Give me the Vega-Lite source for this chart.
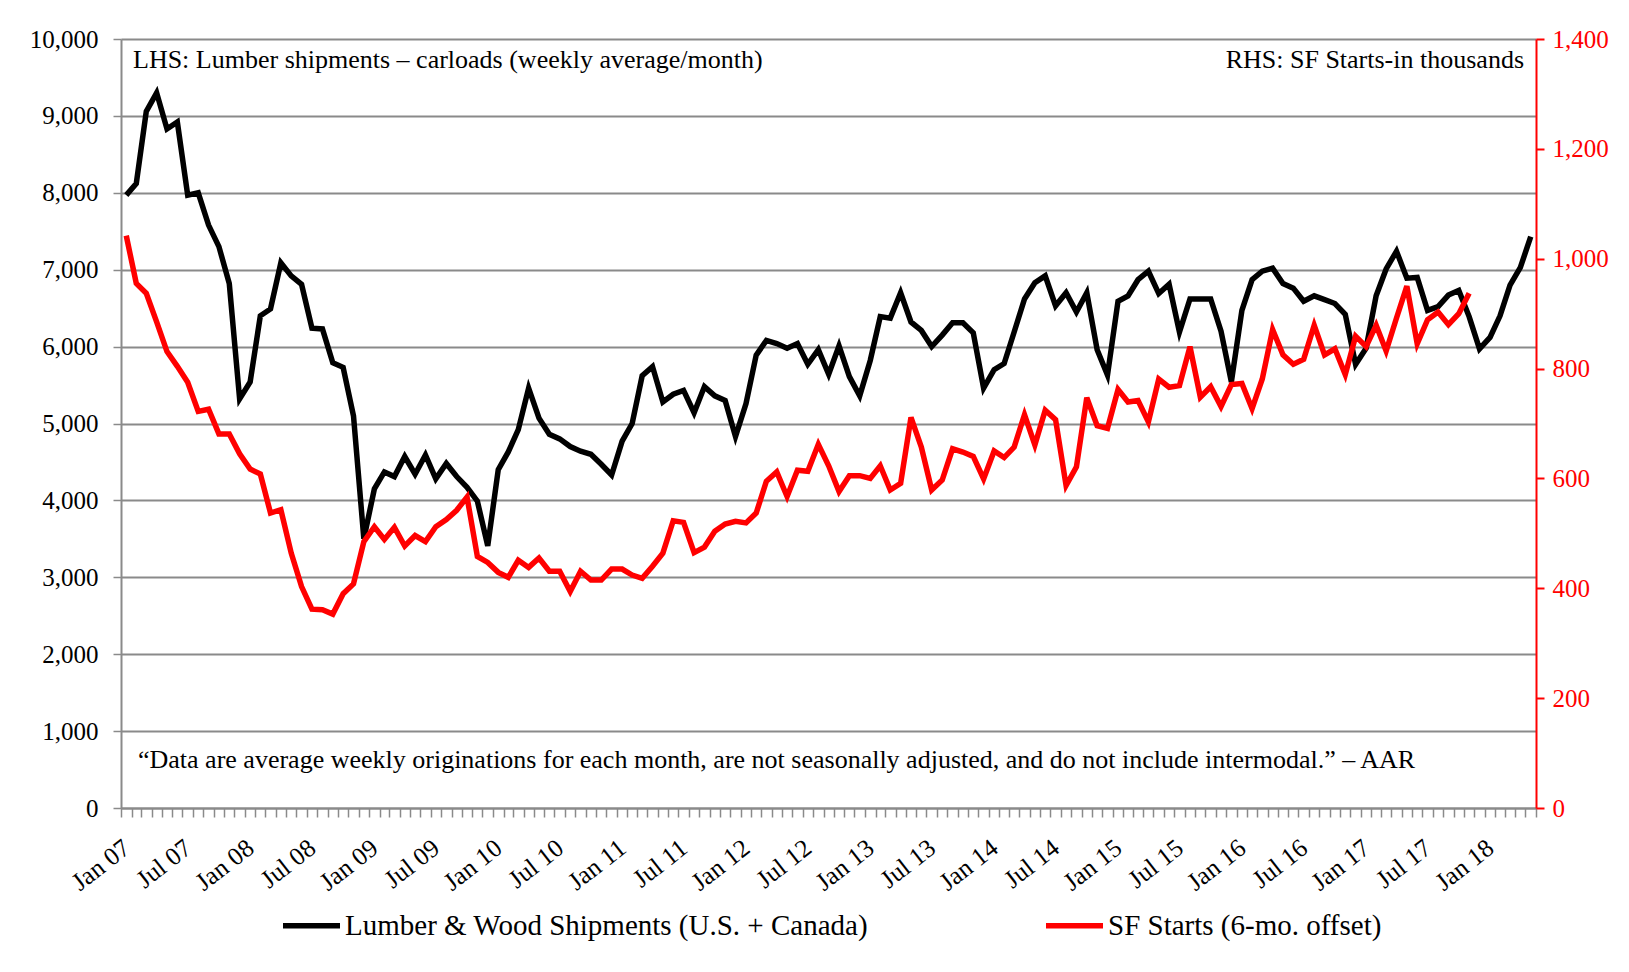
{
  "$schema": "https://vega.github.io/schema/vega-lite/v6.json",
  "width": 1415,
  "height": 769,
  "autosize": {"type": "none"},
  "padding": {"left": 121, "top": 39, "right": 93, "bottom": 164},
  "background": "white",
  "config": {
    "font": "Liberation Serif",
    "view": {"stroke": null},
    "axis": {
      "labelFont": "Liberation Serif",
      "titleFont": "Liberation Serif",
      "domainColor": "#8a8a8a",
      "domainWidth": 2,
      "tickColor": "#8a8a8a",
      "tickWidth": 1.5,
      "tickSize": 8,
      "gridColor": "#8a8a8a",
      "gridWidth": 2,
      "labelColor": "black"
    },
    "legend": {"labelFont": "Liberation Serif"}
  },
  "datasets": {
    "lumber": [
      {"month": "2007-01", "carloads": 7970}, {"month": "2007-02", "carloads": 8120}, {"month": "2007-03", "carloads": 9060}, {"month": "2007-04", "carloads": 9300}, {"month": "2007-05", "carloads": 8830}, {"month": "2007-06", "carloads": 8920}, {"month": "2007-07", "carloads": 7970}, {"month": "2007-08", "carloads": 8000}, {"month": "2007-09", "carloads": 7580}, {"month": "2007-10", "carloads": 7300}, {"month": "2007-11", "carloads": 6820}, {"month": "2007-12", "carloads": 5320},
      {"month": "2008-01", "carloads": 5540}, {"month": "2008-02", "carloads": 6400}, {"month": "2008-03", "carloads": 6490}, {"month": "2008-04", "carloads": 7090}, {"month": "2008-05", "carloads": 6920}, {"month": "2008-06", "carloads": 6810}, {"month": "2008-07", "carloads": 6240}, {"month": "2008-08", "carloads": 6230}, {"month": "2008-09", "carloads": 5790}, {"month": "2008-10", "carloads": 5730}, {"month": "2008-11", "carloads": 5100}, {"month": "2008-12", "carloads": 3500},
      {"month": "2009-01", "carloads": 4150}, {"month": "2009-02", "carloads": 4370}, {"month": "2009-03", "carloads": 4310}, {"month": "2009-04", "carloads": 4570}, {"month": "2009-05", "carloads": 4340}, {"month": "2009-06", "carloads": 4590}, {"month": "2009-07", "carloads": 4280}, {"month": "2009-08", "carloads": 4480}, {"month": "2009-09", "carloads": 4310}, {"month": "2009-10", "carloads": 4170}, {"month": "2009-11", "carloads": 3990}, {"month": "2009-12", "carloads": 3410},
      {"month": "2010-01", "carloads": 4400}, {"month": "2010-02", "carloads": 4630}, {"month": "2010-03", "carloads": 4920}, {"month": "2010-04", "carloads": 5460}, {"month": "2010-05", "carloads": 5070}, {"month": "2010-06", "carloads": 4860}, {"month": "2010-07", "carloads": 4800}, {"month": "2010-08", "carloads": 4700}, {"month": "2010-09", "carloads": 4640}, {"month": "2010-10", "carloads": 4600}, {"month": "2010-11", "carloads": 4470}, {"month": "2010-12", "carloads": 4330},
      {"month": "2011-01", "carloads": 4770}, {"month": "2011-02", "carloads": 5000}, {"month": "2011-03", "carloads": 5620}, {"month": "2011-04", "carloads": 5740}, {"month": "2011-05", "carloads": 5280}, {"month": "2011-06", "carloads": 5380}, {"month": "2011-07", "carloads": 5430}, {"month": "2011-08", "carloads": 5140}, {"month": "2011-09", "carloads": 5480}, {"month": "2011-10", "carloads": 5360}, {"month": "2011-11", "carloads": 5300}, {"month": "2011-12", "carloads": 4830},
      {"month": "2012-01", "carloads": 5260}, {"month": "2012-02", "carloads": 5890}, {"month": "2012-03", "carloads": 6080}, {"month": "2012-04", "carloads": 6040}, {"month": "2012-05", "carloads": 5980}, {"month": "2012-06", "carloads": 6040}, {"month": "2012-07", "carloads": 5770}, {"month": "2012-08", "carloads": 5960}, {"month": "2012-09", "carloads": 5640}, {"month": "2012-10", "carloads": 6010}, {"month": "2012-11", "carloads": 5610}, {"month": "2012-12", "carloads": 5360},
      {"month": "2013-01", "carloads": 5820}, {"month": "2013-02", "carloads": 6390}, {"month": "2013-03", "carloads": 6370}, {"month": "2013-04", "carloads": 6700}, {"month": "2013-05", "carloads": 6320}, {"month": "2013-06", "carloads": 6210}, {"month": "2013-07", "carloads": 6000}, {"month": "2013-08", "carloads": 6150}, {"month": "2013-09", "carloads": 6310}, {"month": "2013-10", "carloads": 6310}, {"month": "2013-11", "carloads": 6180}, {"month": "2013-12", "carloads": 5460},
      {"month": "2014-01", "carloads": 5700}, {"month": "2014-02", "carloads": 5780}, {"month": "2014-03", "carloads": 6190}, {"month": "2014-04", "carloads": 6620}, {"month": "2014-05", "carloads": 6830}, {"month": "2014-06", "carloads": 6920}, {"month": "2014-07", "carloads": 6530}, {"month": "2014-08", "carloads": 6700}, {"month": "2014-09", "carloads": 6450}, {"month": "2014-10", "carloads": 6700}, {"month": "2014-11", "carloads": 5960}, {"month": "2014-12", "carloads": 5630},
      {"month": "2015-01", "carloads": 6590}, {"month": "2015-02", "carloads": 6660}, {"month": "2015-03", "carloads": 6870}, {"month": "2015-04", "carloads": 6980}, {"month": "2015-05", "carloads": 6690}, {"month": "2015-06", "carloads": 6810}, {"month": "2015-07", "carloads": 6190}, {"month": "2015-08", "carloads": 6620}, {"month": "2015-09", "carloads": 6620}, {"month": "2015-10", "carloads": 6620}, {"month": "2015-11", "carloads": 6200}, {"month": "2015-12", "carloads": 5540},
      {"month": "2016-01", "carloads": 6470}, {"month": "2016-02", "carloads": 6870}, {"month": "2016-03", "carloads": 6980}, {"month": "2016-04", "carloads": 7020}, {"month": "2016-05", "carloads": 6820}, {"month": "2016-06", "carloads": 6760}, {"month": "2016-07", "carloads": 6590}, {"month": "2016-08", "carloads": 6660}, {"month": "2016-09", "carloads": 6610}, {"month": "2016-10", "carloads": 6560}, {"month": "2016-11", "carloads": 6420}, {"month": "2016-12", "carloads": 5770},
      {"month": "2017-01", "carloads": 5980}, {"month": "2017-02", "carloads": 6660}, {"month": "2017-03", "carloads": 7010}, {"month": "2017-04", "carloads": 7240}, {"month": "2017-05", "carloads": 6890}, {"month": "2017-06", "carloads": 6900}, {"month": "2017-07", "carloads": 6470}, {"month": "2017-08", "carloads": 6520}, {"month": "2017-09", "carloads": 6670}, {"month": "2017-10", "carloads": 6730}, {"month": "2017-11", "carloads": 6390}, {"month": "2017-12", "carloads": 5970},
      {"month": "2018-01", "carloads": 6120}, {"month": "2018-02", "carloads": 6400}, {"month": "2018-03", "carloads": 6800}, {"month": "2018-04", "carloads": 7030}, {"month": "2018-05", "carloads": 7430}
    ],
    "starts": [
      {"month": "2007-01", "starts": 1042}, {"month": "2007-02", "starts": 955}, {"month": "2007-03", "starts": 937}, {"month": "2007-04", "starts": 885}, {"month": "2007-05", "starts": 831}, {"month": "2007-06", "starts": 804}, {"month": "2007-07", "starts": 775}, {"month": "2007-08", "starts": 722}, {"month": "2007-09", "starts": 726}, {"month": "2007-10", "starts": 681}, {"month": "2007-11", "starts": 681}, {"month": "2007-12", "starts": 645},
      {"month": "2008-01", "starts": 617}, {"month": "2008-02", "starts": 608}, {"month": "2008-03", "starts": 537}, {"month": "2008-04", "starts": 543}, {"month": "2008-05", "starts": 464}, {"month": "2008-06", "starts": 403}, {"month": "2008-07", "starts": 362}, {"month": "2008-08", "starts": 361}, {"month": "2008-09", "starts": 353}, {"month": "2008-10", "starts": 390}, {"month": "2008-11", "starts": 408}, {"month": "2008-12", "starts": 485},
      {"month": "2009-01", "starts": 512}, {"month": "2009-02", "starts": 489}, {"month": "2009-03", "starts": 511}, {"month": "2009-04", "starts": 477}, {"month": "2009-05", "starts": 496}, {"month": "2009-06", "starts": 485}, {"month": "2009-07", "starts": 512}, {"month": "2009-08", "starts": 525}, {"month": "2009-09", "starts": 542}, {"month": "2009-10", "starts": 566}, {"month": "2009-11", "starts": 458}, {"month": "2009-12", "starts": 447},
      {"month": "2010-01", "starts": 429}, {"month": "2010-02", "starts": 420}, {"month": "2010-03", "starts": 451}, {"month": "2010-04", "starts": 438}, {"month": "2010-05", "starts": 455}, {"month": "2010-06", "starts": 431}, {"month": "2010-07", "starts": 431}, {"month": "2010-08", "starts": 394}, {"month": "2010-09", "starts": 431}, {"month": "2010-10", "starts": 415}, {"month": "2010-11", "starts": 415}, {"month": "2010-12", "starts": 435},
      {"month": "2011-01", "starts": 435}, {"month": "2011-02", "starts": 424}, {"month": "2011-03", "starts": 418}, {"month": "2011-04", "starts": 440}, {"month": "2011-05", "starts": 464}, {"month": "2011-06", "starts": 523}, {"month": "2011-07", "starts": 520}, {"month": "2011-08", "starts": 465}, {"month": "2011-09", "starts": 475}, {"month": "2011-10", "starts": 504}, {"month": "2011-11", "starts": 517}, {"month": "2011-12", "starts": 522},
      {"month": "2012-01", "starts": 519}, {"month": "2012-02", "starts": 537}, {"month": "2012-03", "starts": 595}, {"month": "2012-04", "starts": 612}, {"month": "2012-05", "starts": 567}, {"month": "2012-06", "starts": 615}, {"month": "2012-07", "starts": 613}, {"month": "2012-08", "starts": 662}, {"month": "2012-09", "starts": 623}, {"month": "2012-10", "starts": 576}, {"month": "2012-11", "starts": 605}, {"month": "2012-12", "starts": 605},
      {"month": "2013-01", "starts": 600}, {"month": "2013-02", "starts": 623}, {"month": "2013-03", "starts": 579}, {"month": "2013-04", "starts": 591}, {"month": "2013-05", "starts": 711}, {"month": "2013-06", "starts": 657}, {"month": "2013-07", "starts": 579}, {"month": "2013-08", "starts": 597}, {"month": "2013-09", "starts": 654}, {"month": "2013-10", "starts": 648}, {"month": "2013-11", "starts": 640}, {"month": "2013-12", "starts": 599},
      {"month": "2014-01", "starts": 650}, {"month": "2014-02", "starts": 638}, {"month": "2014-03", "starts": 657}, {"month": "2014-04", "starts": 716}, {"month": "2014-05", "starts": 661}, {"month": "2014-06", "starts": 724}, {"month": "2014-07", "starts": 707}, {"month": "2014-08", "starts": 587}, {"month": "2014-09", "starts": 621}, {"month": "2014-10", "starts": 747}, {"month": "2014-11", "starts": 696}, {"month": "2014-12", "starts": 691},
      {"month": "2015-01", "starts": 762}, {"month": "2015-02", "starts": 739}, {"month": "2015-03", "starts": 742}, {"month": "2015-04", "starts": 703}, {"month": "2015-05", "starts": 781}, {"month": "2015-06", "starts": 766}, {"month": "2015-07", "starts": 769}, {"month": "2015-08", "starts": 840}, {"month": "2015-09", "starts": 748}, {"month": "2015-10", "starts": 767}, {"month": "2015-11", "starts": 731}, {"month": "2015-12", "starts": 771},
      {"month": "2016-01", "starts": 773}, {"month": "2016-02", "starts": 727}, {"month": "2016-03", "starts": 781}, {"month": "2016-04", "starts": 871}, {"month": "2016-05", "starts": 825}, {"month": "2016-06", "starts": 808}, {"month": "2016-07", "starts": 817}, {"month": "2016-08", "starts": 879}, {"month": "2016-09", "starts": 825}, {"month": "2016-10", "starts": 836}, {"month": "2016-11", "starts": 789}, {"month": "2016-12", "starts": 859},
      {"month": "2017-01", "starts": 840}, {"month": "2017-02", "starts": 879}, {"month": "2017-03", "starts": 832}, {"month": "2017-04", "starts": 892}, {"month": "2017-05", "starts": 950}, {"month": "2017-06", "starts": 845}, {"month": "2017-07", "starts": 889}, {"month": "2017-08", "starts": 903}, {"month": "2017-09", "starts": 880}, {"month": "2017-10", "starts": 900}, {"month": "2017-11", "starts": 937}
    ],
    "notes": [{}]
  },
  "layer": [
    {
      "data": {"name": "lumber", "format": {"parse": {"month": "date:'%Y-%m'"}}},
      "mark": {"type": "line", "color": "black", "strokeWidth": 5.5},
      "encoding": {
        "x": {
          "field": "month", "type": "temporal", "timeUnit": "yearmonth", "bandPosition": 0.5,
          "scale": {"domain": [{"year": 2007, "month": 1, "date": 1}, {"year": 2018, "month": 6, "date": 1}]},
          "axis": {
            "title": null,
            "tickCount": {"interval": "month", "step": 1},
            "labelExpr": "month(datum.value) % 6 == 0 ? timeFormat(datum.value, '%b %y') : ''",
            "labelAngle": -38,
            "labelAlign": "right",
            "labelBaseline": "top",
            "labelFontSize": 25.5,
            "tickSize": 9,
            "labelPadding": 18,
            "labelOffset": -2,
            "labelOverlap": false,
            "labelFlush": false,
            "grid": false
          }
        },
        "y": {
          "field": "carloads", "type": "quantitative",
          "scale": {"domain": [0, 10000]},
          "axis": {
            "title": null, "orient": "left",
            "values": [0, 1000, 2000, 3000, 4000, 5000, 6000, 7000, 8000, 9000, 10000],
            "format": ",d", "grid": true, "labelFontSize": 25, "labelPadding": 15
          }
        },
        "color": {
          "datum": "Lumber & Wood Shipments (U.S. + Canada)",
          "scale": {"domain": ["Lumber & Wood Shipments (U.S. + Canada)", "SF Starts (6-mo. offset)"], "range": ["black", "#ff0000"]},
          "legend": {
            "orient": "none", "legendX": 159, "legendY": 855, "direction": "horizontal", "title": null,
            "symbolType": "stroke", "symbolStrokeWidth": 5.5, "symbolSize": 3249,
            "labelFontSize": 29, "labelOffset": 2, "labelLimit": 1000, "columnPadding": 166, "padding": 0
          }
        }
      }
    },
    {
      "data": {"name": "notes"},
      "mark": {"type": "text", "text": "LHS: Lumber shipments – carloads (weekly  average/month)", "align": "left", "baseline": "middle", "fontSize": 26, "font": "Liberation Serif", "dx": 12, "color": "black"},
      "encoding": {
        "x": {"datum": {"year": 2007, "month": 1, "date": 1}, "type": "temporal"},
        "y": {"datum": 9727, "type": "quantitative", "scale": {"domain": [0, 10000]}, "axis": null}
      }
    },
    {
      "data": {"name": "notes"},
      "mark": {"type": "text", "text": "RHS: SF Starts-in thousands", "align": "right", "baseline": "middle", "fontSize": 26, "font": "Liberation Serif", "dx": -12, "color": "black"},
      "encoding": {
        "x": {"datum": {"year": 2018, "month": 6, "date": 1}, "type": "temporal"},
        "y": {"datum": 9727, "type": "quantitative", "scale": {"domain": [0, 10000]}, "axis": null}
      }
    },
    {
      "data": {"name": "notes"},
      "mark": {"type": "text", "text": "“Data are average weekly originations for each month, are not seasonally adjusted, and do not include intermodal.” –  AAR", "align": "left", "baseline": "middle", "fontSize": 26, "font": "Liberation Serif", "dx": 17, "color": "black"},
      "encoding": {
        "x": {"datum": {"year": 2007, "month": 1, "date": 1}, "type": "temporal"},
        "y": {"datum": 618, "type": "quantitative", "scale": {"domain": [0, 10000]}, "axis": null}
      }
    },
    {
      "data": {"name": "starts", "format": {"parse": {"month": "date:'%Y-%m'"}}},
      "mark": {"type": "line", "color": "#ff0000", "strokeWidth": 5.5},
      "encoding": {
        "x": {"field": "month", "type": "temporal", "timeUnit": "yearmonth", "bandPosition": 0.5},
        "y": {
          "field": "starts", "type": "quantitative",
          "scale": {"domain": [0, 1400]},
          "axis": {
            "title": null, "orient": "right",
            "values": [0, 200, 400, 600, 800, 1000, 1200, 1400],
            "format": ",d", "grid": false, "labelFontSize": 25, "labelPadding": 8,
            "labelColor": "#ff0000", "domainColor": "#ff0000", "tickColor": "#ff0000", "tickWidth": 2
          }
        },
        "color": {"datum": "SF Starts (6-mo. offset)"}
      }
    }
  ],
  "resolve": {"scale": {"y": "independent"}}
}
